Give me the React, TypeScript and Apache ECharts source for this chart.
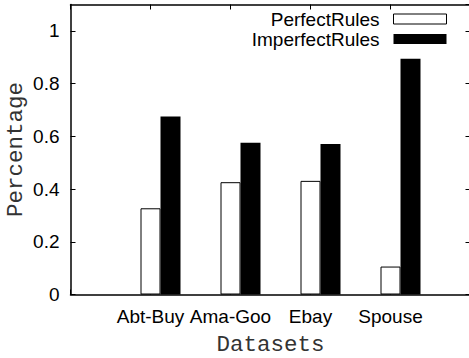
import React, { useEffect, useRef } from "react";
import * as echarts from "echarts";

const categories = ["Abt-Buy", "Ama-Goo", "Ebay", "Spouse"];
const perfectRules = [0.327, 0.426, 0.431, 0.106];
const imperfectRules = [0.675, 0.576, 0.571, 0.894];
const seriesNames = ["PerfectRules", "ImperfectRules"];

const SANS = "Liberation Sans";
const MONO = "Liberation Mono";

export default function App() {
  const ref = useRef<HTMLDivElement>(null);
  useEffect(() => {
    if (!ref.current) return;
    const chart = echarts.init(ref.current, null, { renderer: "svg" });
    const grid = { left: 70.5, top: 4.5, width: 400, height: 290, outerBoundsMode: "none", containLabel: false };
    const tickCommon = { show: true, inside: true, length: 5, lineStyle: { color: "#000", width: 1 } };
    const lineCommon = { show: true, onZero: false, lineStyle: { color: "#000", width: 1.5 } };
    chart.setOption({
      animation: false,
      backgroundColor: "#fff",
      grid,
      legend: {
        orient: "vertical",
        right: 22,
        top: 9,
        padding: 0,
        itemGap: 0,
        itemWidth: 53,
        itemHeight: 10,
        align: "right",
        icon: "rect",
        textStyle: { fontFamily: SANS, fontSize: 19, color: "#000", lineHeight: 20, padding: [0, 9, 0, 0] },
        data: [
          { name: seriesNames[0], itemStyle: { color: "#fff", borderColor: "#000", borderWidth: 1 } },
          { name: seriesNames[1], itemStyle: { color: "#000", borderWidth: 0 } },
        ],
      },
      xAxis: [
        {
          type: "value",
          position: "bottom",
          min: -1,
          max: 4,
          interval: 1,
          axisLine: lineCommon,
          axisTick: tickCommon,
          splitLine: { show: false },
          axisLabel: {
            fontFamily: SANS,
            fontSize: 19,
            color: "#000",
            margin: 12,
            formatter: (v: number) => categories[v] ?? "",
          },
          name: "Datasets",
          nameLocation: "middle",
          nameGap: 42.5,
          nameMoveOverlap: false,
          nameTextStyle: { fontFamily: MONO, fontSize: 22.5, lineHeight: 16, color: "#333" },
        },
        {
          type: "value",
          position: "top",
          min: -1,
          max: 4,
          interval: 1,
          axisLine: lineCommon,
          axisTick: tickCommon,
          splitLine: { show: false },
          axisLabel: { show: false },
        },
        {
          type: "value",
          position: "bottom",
          show: false,
          min: -1.125,
          max: 3.875,
        },
      ],
      yAxis: [
        {
          type: "value",
          position: "left",
          min: 0,
          max: 1.1,
          interval: 0.2,
          axisLine: lineCommon,
          axisTick: tickCommon,
          splitLine: { show: false },
          axisLabel: { fontFamily: SANS, fontSize: 19, color: "#000", margin: 11, showMaxLabel: false },
          name: "Percentage",
          nameLocation: "middle",
          nameGap: 47,
          nameMoveOverlap: false,
          nameTextStyle: { fontFamily: MONO, fontSize: 22.5, lineHeight: 16, color: "#333" },
        },
        {
          type: "value",
          position: "right",
          min: 0,
          max: 1.1,
          interval: 0.2,
          axisLine: lineCommon,
          axisTick: tickCommon,
          splitLine: { show: false },
          axisLabel: { show: false },
        },
      ],
      series: [
        {
          name: seriesNames[0],
          type: "bar",
          xAxisIndex: 2,
          yAxisIndex: 0,
          barWidth: 20,
          barGap: "0%",
          itemStyle: { color: "#fff", borderColor: "#000", borderWidth: 1 },
          data: perfectRules.map((v, i) => [i, v]),
        },
        {
          name: seriesNames[1],
          type: "bar",
          xAxisIndex: 2,
          yAxisIndex: 0,
          barWidth: 20,
          barGap: "0%",
          itemStyle: { color: "#000" },
          data: imperfectRules.map((v, i) => [i, v]),
        },
      ],
    });
    return () => chart.dispose();
  }, []);
  return (
    <div
      ref={ref}
      style={{ position: "absolute", left: 0, top: 0, width: 469, height: 358 }}
    />
  );
}
